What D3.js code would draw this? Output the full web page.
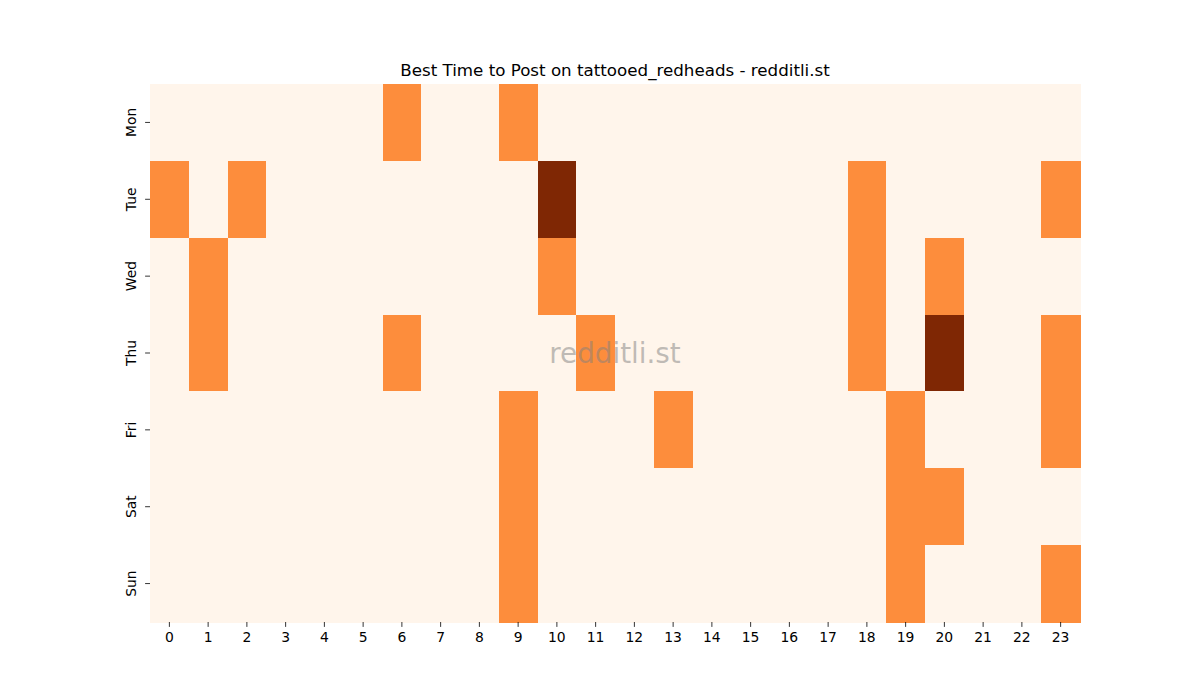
<!DOCTYPE html>
<html>
<head>
<meta charset="utf-8">
<script src="https://cdn.jsdelivr.net/npm/d3@7"></script>
<style>
  body { margin: 0; background: #fff; }
  text { font-family: "DejaVu Sans", sans-serif; }
</style>
</head>
<body>
<div id="chart"></div>
<script>
// data
const days = ["Mon", "Tue", "Wed", "Thu", "Fri", "Sat", "Sun"];
const hours = d3.range(24);
const monVals = [0,0,0,0,0,0,1,0,0,1,0,0,0,0,0,0,0,0,0,0,0,0,0,0];
const tueVals = [1,0,1,0,0,0,0,0,0,0,2,0,0,0,0,0,0,0,1,0,0,0,0,1];
const wedVals = [0,1,0,0,0,0,0,0,0,0,1,0,0,0,0,0,0,0,1,0,1,0,0,0];
const thuVals = [0,1,0,0,0,0,1,0,0,0,0,1,0,0,0,0,0,0,1,0,2,0,0,1];
const friVals = [0,0,0,0,0,0,0,0,0,1,0,0,0,1,0,0,0,0,0,1,0,0,0,1];
const satVals = [0,0,0,0,0,0,0,0,0,1,0,0,0,0,0,0,0,0,0,1,1,0,0,0];
const sunVals = [0,0,0,0,0,0,0,0,0,1,0,0,0,0,0,0,0,0,0,1,0,0,0,1];
const rows = [monVals, tueVals, wedVals, thuVals, friVals, satVals, sunVals];

const W = 1200, H = 700;
const margin = {top: 84, right: 120, bottom: 78, left: 150};
const width = W - margin.left - margin.right;
const height = H - margin.top - margin.bottom;

const cells = [];
rows.forEach((r, i) => r.forEach((v, j) => cells.push({day: days[i], hour: j, value: v})));

const svg = d3.select("#chart").append("svg")
  .attr("width", W).attr("height", H);
const g = svg.append("g").attr("transform", `translate(${margin.left},${margin.top})`);

const x = d3.scaleBand().domain(hours).range([0, width]);
const y = d3.scaleBand().domain(days).range([0, height]);
// Oranges colormap stops at 0, 0.5 and 1 of the value range
const colorScale = d3.scaleLinear().domain([0, 1, 2]).range(["#fff5eb", "#fd8d3c", "#7f2704"]);

g.selectAll("rect.cell")
  .data(cells)
  .join("rect")
  .attr("class", "cell")
  .attr("x", d => x(d.hour))
  .attr("y", d => y(d.day))
  .attr("width", x.bandwidth() + 0.5)
  .attr("height", y.bandwidth() + 0.5)
  .attr("shape-rendering", "crispEdges")
  .attr("fill", d => colorScale(d.value));

// axes
const xAxis = g.append("g")
  .attr("transform", `translate(0,${height})`)
  .call(d3.axisBottom(x).tickSize(4.9).tickPadding(4.9));
const yAxis = g.append("g")
  .call(d3.axisLeft(y).tickSize(4.9).tickPadding(4.9));
[xAxis, yAxis].forEach(a => {
  a.select(".domain").remove();
  a.selectAll("line").attr("stroke", "#000").attr("stroke-width", 0.8);
  a.selectAll("text").attr("fill", "#000").style("font-size", "13.9px")
    .style("font-family", "DejaVu Sans, sans-serif");
});
yAxis.selectAll(".tick text")
  .attr("x", null).attr("dy", null)
  .attr("text-anchor", "middle")
  .attr("transform", "translate(-14,0) rotate(-90)");

// title
svg.append("text")
  .attr("x", margin.left + width / 2)
  .attr("y", margin.top - 8)
  .attr("text-anchor", "middle")
  .style("font-size", "16.7px")
  .attr("fill", "#000")
  .text("Best Time to Post on tattooed_redheads - redditli.st");

// watermark
g.append("text")
  .attr("x", width / 2)
  .attr("y", height / 2)
  .attr("dy", "0.35em")
  .attr("text-anchor", "middle")
  .style("font-size", "27.8px")
  .attr("fill", "#808080")
  .attr("fill-opacity", 0.5)
  .text("redditli.st");
</script>
</body>
</html>
